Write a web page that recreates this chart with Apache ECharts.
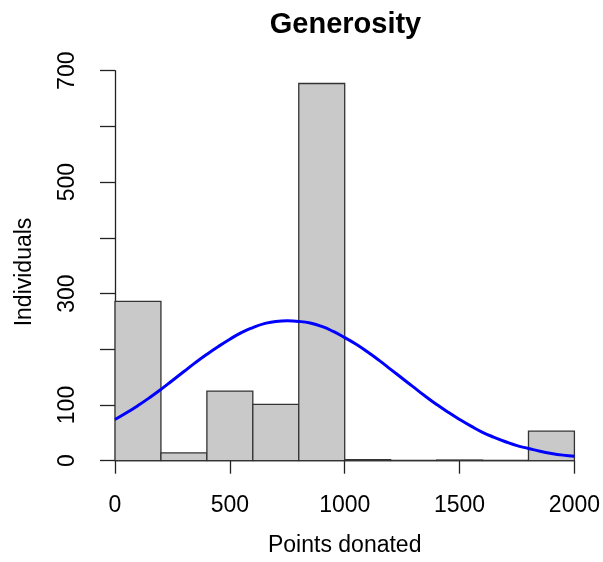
<!DOCTYPE html>
<html>
<head>
<meta charset="utf-8">
<script src="https://cdn.jsdelivr.net/npm/echarts@6/dist/echarts.min.js"></script>
<style>html,body{margin:0;padding:0;background:#fff;}#c{width:603px;height:562px;}</style>
</head>
<body>
<div id="c"></div>
<script>
// Histogram bins (breaks) and counts
const binStarts = [0, 200, 400, 600, 800, 1000, 1200, 1400, 1600, 1800];
const binEnds   = [200, 400, 600, 800, 1000, 1200, 1400, 1600, 1800, 2000];
const counts    = [286, 14, 125, 101, 677, 2, 0, 1, 0, 53];
// Fitted curve
const curveX = [0, 50, 100, 150, 200, 250, 300, 350, 400, 450, 500, 550, 600, 650, 700, 750, 800, 850, 900, 950,
                1000, 1050, 1100, 1150, 1200, 1250, 1300, 1350, 1400, 1450, 1500, 1550, 1600, 1650, 1700, 1750, 1800, 1850, 1900, 1950, 2000];
const curveY = [74, 86, 99, 113, 128, 144, 160, 176, 191, 205, 218, 230, 239, 246, 250, 251, 250, 247, 241, 232,
                221, 209, 195, 180, 164, 148, 132, 116, 101, 87, 74, 62, 51, 42, 34, 27, 22, 17, 13, 10, 8];
const xTicks = [0, 500, 1000, 1500, 2000];
const yLabelShown = [0, 100, 300, 500, 700];

const FONT = '"Liberation Sans", Arial, Helvetica, sans-serif';
const chart = echarts.init(document.getElementById('c'), null, {renderer: 'canvas'});
const histData = binStarts.map((s, i) => [s, binEnds[i], counts[i]]);
const curveData = curveX.map((x, i) => [x, curveY[i]]);

chart.setOption({
  animation: false,
  backgroundColor: '#ffffff',
  grid: {left: 115, right: 27, top: 70.7, bottom: 101.3, containLabel: false},
  xAxis: {
    type: 'value', min: 0, max: 2000, interval: 500,
    offset: 16,
    name: 'Points donated', nameLocation: 'middle', nameGap: 57,
    nameTextStyle: {fontFamily: FONT, fontSize: 23, color: '#000'},
    axisLine: {show: true, lineStyle: {color: '#222', width: 1.3}},
    axisTick: {show: true, length: 13, lineStyle: {color: '#222', width: 1.3}},
    axisLabel: {fontFamily: FONT, fontSize: 23, color: '#000', margin: 17,
      formatter: v => xTicks.indexOf(v) >= 0 ? String(v) : ''},
    splitLine: {show: false}
  },
  yAxis: {
    type: 'value', min: 0, max: 700, interval: 100,
    offset: 18.4,
    axisLine: {show: true, lineStyle: {color: '#222', width: 1.3}},
    axisTick: {show: true, length: 15, lineStyle: {color: '#222', width: 1.3}},
    axisLabel: {fontFamily: FONT, fontSize: 23, color: '#000', rotate: 90, margin: 17,
      formatter: v => yLabelShown.indexOf(v) >= 0 ? String(v) : ''},
    splitLine: {show: false}
  },
  graphic: [{
    type: 'text', x: 345.5, y: 25,
    style: {text: 'Generosity', font: 'bold 29px ' + FONT, fill: '#000', textAlign: 'center', textVerticalAlign: 'middle'}
  }, {
    type: 'text', x: 25, y: 272, rotation: Math.PI / 2,
    style: {text: 'Individuals', font: '23px ' + FONT, fill: '#000', textAlign: 'center', textVerticalAlign: 'middle'}
  }],
  series: [{
    type: 'custom',
    data: histData,
    encode: {x: [0, 1], y: 2},
    z: 2,
    renderItem: function (params, api) {
      const p0 = api.coord([api.value(0), api.value(2)]);
      const p1 = api.coord([api.value(1), 0]);
      return {
        type: 'rect',
        shape: {x: p0[0], y: p0[1], width: p1[0] - p0[0], height: p1[1] - p0[1]},
        style: {fill: '#c9c9c9', stroke: '#333333', lineWidth: 1.3}
      };
    }
  }, {
    type: 'line',
    data: curveData,
    smooth: 0.5,
    symbol: 'none',
    z: 3,
    lineStyle: {color: '#0000ff', width: 3}
  }]
});
</script>
</body>
</html>
